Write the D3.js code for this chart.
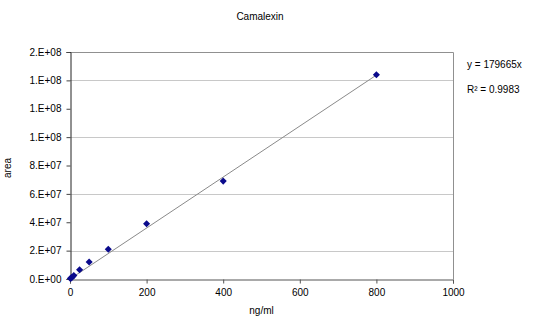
<!DOCTYPE html>
<html>
<head>
<meta charset="utf-8">
<script src="https://cdn.jsdelivr.net/npm/d3@7"></script>
<style>
  body { margin: 0; background: #fff; }
  text { font-family: "Liberation Sans", Arial, sans-serif; fill: #000; }
</style>
</head>
<body>
<div id="chart"></div>
<script>
// calibration data
const conc = [1, 2.5, 5, 10, 25, 50, 100, 200, 400, 800];
const area = [3e5, 6e5, 1.2e6, 2.4e6, 6.5e6, 1.2e7, 2.1e7, 3.9e7, 6.9e7, 1.44e8];
const slope = 179665;
const rSquared = "0.9983";

const xTicks = [0, 200, 400, 600, 800, 1000];
const yTicks = [0, 2e7, 4e7, 6e7, 8e7, 1e8, 1.2e8, 1.4e8, 1.6e8];
const yTickLabels = ["0.E+00", "2.E+07", "4.E+07", "6.E+07", "8.E+07", "1.E+08", "1.E+08", "1.E+08", "2.E+08"];
const yGrid = [2e7, 6e7, 1e8, 1.4e8];

const width = 536;
const height = 319;
const margin = { top: 52, right: 83, bottom: 40, left: 70 };

const svg = d3.select("#chart")
  .append("svg")
  .attr("width", width)
  .attr("height", height);

const x = d3.scaleLinear().domain([0, 1000]).range([margin.left, width - margin.right]);
const y = d3.scaleLinear().domain([0, 1.6e8]).range([height - margin.bottom, margin.top]);

// gridlines
svg.append("g")
  .selectAll("line")
  .data(yGrid)
  .enter()
  .append("line")
  .attr("x1", x(0))
  .attr("x2", x(1000))
  .attr("y1", d => Math.round(y(d)) + 0.5)
  .attr("y2", d => Math.round(y(d)) + 0.5)
  .attr("stroke", "#c8c8c8");

// plot border (top / right)
svg.append("path")
  .attr("d", `M${x(0)},${Math.round(y(1.6e8)) + 0.5}H${Math.round(x(1000)) + 0.5}V${y(0)}`)
  .attr("fill", "none")
  .attr("stroke", "#909090");

// y axis
const yAxis = svg.append("g")
  .attr("transform", `translate(${Math.round(x(0)) + 0.5},0)`)
  .call(d3.axisLeft(y).tickValues(yTicks).tickSize(4).tickPadding(5)
    .tickFormat((d, i) => yTickLabels[i]));
yAxis.select(".domain").attr("stroke", "#222");
yAxis.selectAll(".tick line").attr("stroke", "#444");
yAxis.selectAll("text").style("font-size", "10px").attr("fill", "#000");

// x axis
const xAxis = svg.append("g")
  .attr("transform", `translate(0,${Math.round(y(0)) + 0.5})`)
  .call(d3.axisBottom(x).tickValues(xTicks).tickSize(4).tickPadding(5)
    .tickFormat(d3.format("d")));
xAxis.select(".domain").attr("stroke", "#555");
xAxis.selectAll(".tick line").attr("stroke", "#555");
xAxis.selectAll("text").style("font-size", "10px").attr("fill", "#000");

// trendline (forced through zero)
svg.append("line")
  .attr("x1", x(0))
  .attr("y1", y(0))
  .attr("x2", x(d3.max(conc)))
  .attr("y2", y(slope * d3.max(conc)))
  .attr("stroke", "#8a8a8a")
  .attr("stroke-width", 1);

// diamond markers
svg.append("g")
  .selectAll("path")
  .data(conc)
  .enter()
  .append("path")
  .attr("transform", (d, i) => `translate(${x(d)},${y(area[i])})`)
  .attr("d", d3.symbol(d3.symbolDiamond2, 32))
  .attr("fill", "#0a0a8c");

// title
svg.append("text")
  .attr("x", 260)
  .attr("y", 20)
  .attr("text-anchor", "middle")
  .style("font-size", "10px")
  .text("Camalexin");

// axis titles
svg.append("text")
  .attr("x", (x(0) + x(1000)) / 2)
  .attr("y", 314)
  .attr("text-anchor", "middle")
  .style("font-size", "10px")
  .text("ng/ml");

svg.append("text")
  .attr("transform", "translate(11,168) rotate(-90)")
  .attr("text-anchor", "middle")
  .style("font-size", "10px")
  .text("area");

// equation
svg.append("text")
  .attr("x", 467)
  .attr("y", 68)
  .style("font-size", "10px")
  .text(`y = ${slope}x`);

svg.append("text")
  .attr("x", 467)
  .attr("y", 93)
  .style("font-size", "10px")
  .text(`R² = ${rSquared}`);
</script>
</body>
</html>
